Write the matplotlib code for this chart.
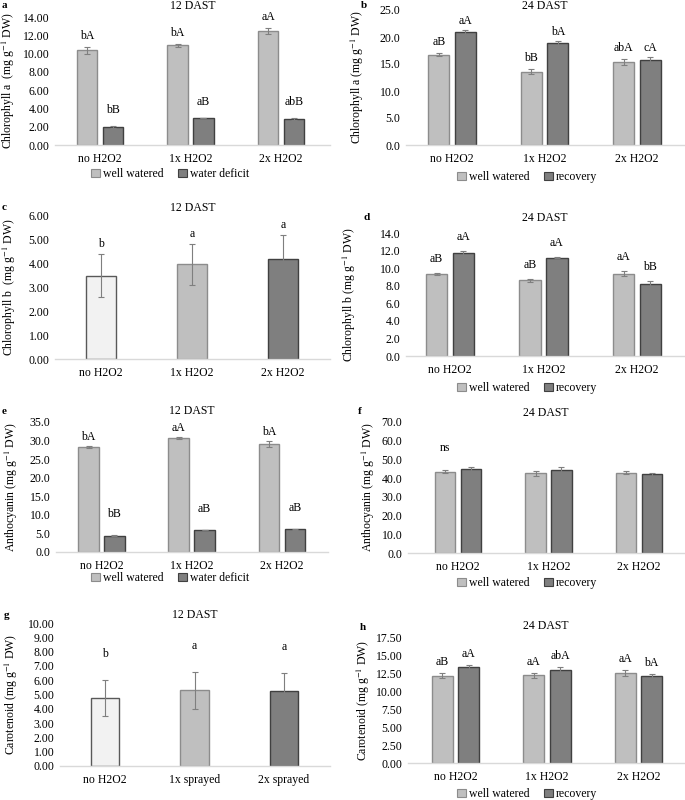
import matplotlib
matplotlib.use("Agg")
import matplotlib.pyplot as plt
from matplotlib.patches import Patch
import numpy as np

plt.rcParams['font.family'] = ['Liberation Serif', 'DejaVu Serif']
plt.rcParams['mathtext.fontset'] = 'stix'

# ---------------- data ----------------
groups = ["no H2O2", "1x H2O2", "2x H2O2"]
groups_sprayed = ["no H2O2", "1x sprayed", "2x sprayed"]

# a: Chlorophyll a 12 DAST
chla12_ww = [10.35, 10.90, 12.45]
chla12_ww_err = [0.35, 0.20, 0.35]
chla12_wd = [1.95, 2.95, 2.85]
chla12_wd_err = [0.10, 0.05, 0.08]
chla12_ww_lab = ["bA", "bA", "aA"]
chla12_wd_lab = ["bB", "aB", "abB"]

# b: Chlorophyll a 24 DAST
chla24_ww = [16.7, 13.6, 15.4]
chla24_ww_err = [0.25, 0.40, 0.50]
chla24_rec = [20.9, 18.8, 15.8]
chla24_rec_err = [0.35, 0.45, 0.55]
chla24_ww_lab = ["aB", "bB", "abA"]
chla24_rec_lab = ["aA", "bA", "cA"]

# c: Chlorophyll b 12 DAST
chlb12 = [3.47, 3.95, 4.17]
chlb12_err = [0.90, 0.85, 1.00]
chlb12_lab = ["b", "a", "a"]

# d: Chlorophyll b 24 DAST
chlb24_ww = [9.35, 8.60, 9.35]
chlb24_ww_err = [0.15, 0.20, 0.30]
chlb24_rec = [11.75, 11.20, 8.20]
chlb24_rec_err = [0.20, 0.05, 0.30]
chlb24_ww_lab = ["aB", "aB", "aA"]
chlb24_rec_lab = ["aA", "aA", "bB"]

# e: Anthocyanin 12 DAST
anth12_ww = [28.3, 30.7, 29.1]
anth12_ww_err = [0.30, 0.15, 0.70]
anth12_wd = [4.4, 5.9, 6.1]
anth12_wd_err = [0.10, 0.10, 0.10]
anth12_ww_lab = ["bA", "aA", "bA"]
anth12_wd_lab = ["bB", "aB", "aB"]

# f: Anthocyanin 24 DAST
anth24_ww = [43.3, 42.6, 42.9]
anth24_ww_err = [0.8, 1.3, 0.8]
anth24_rec = [44.8, 44.6, 42.0]
anth24_rec_err = [1.1, 1.3, 1.0]
anth24_ww_lab = ["ns", "", ""]
anth24_rec_lab = ["", "", ""]

# g: Carotenoid 12 DAST
car12 = [4.75, 5.30, 5.25]
car12_err = [1.25, 1.30, 1.25]
car12_lab = ["b", "a", "a"]

# h: Carotenoid 24 DAST
car24_ww = [12.25, 12.30, 12.60]
car24_ww_err = [0.30, 0.35, 0.40]
car24_rec = [13.45, 13.05, 12.15]
car24_rec_err = [0.30, 0.40, 0.25]
car24_ww_lab = ["aB", "aA", "aA"]
car24_rec_lab = ["aA", "abA", "bA"]

# ---------------- style ----------------
W, H = 685, 800
C_LIGHT = "#f2f2f2"
C_MID = "#bfbfbf"
C_DARK = "#7f7f7f"
E_LIGHT = "#595959"
E_MID = "#8c8c8c"
E_DARK = "#404040"
ERR_C = "#7f7f7f"
FS = 8.5

fig = plt.figure(figsize=(W / 100, H / 100), dpi=100)


def make_ax(left, right, top, bottom, c0, c2):
    ax = fig.add_axes([left / W, 1 - bottom / H, (right - left) / W, (bottom - top) / H])
    unit = (c2 - c0) / 2
    ax.set_xlim((left - c0) / unit, (right - c0) / unit)
    for s in ["left", "right", "top"]:
        ax.spines[s].set_visible(False)
    ax.spines["bottom"].set_color("#d9d9d9")
    ax.spines["bottom"].set_linewidth(1.0)
    ax.tick_params(length=0, labelsize=FS, pad=4)
    return ax


def finish(ax, ymax, step, fmt, ylabel, xlabels, letter, lx, ly, ylab_x):
    ax.set_ylim(0, ymax)
    ticks = np.arange(0, ymax + step / 2, step)
    ax.set_yticks(ticks)
    ax.set_yticklabels([fmt % t for t in ticks])
    ax.set_xticks(range(len(xlabels)))
    ax.set_xticklabels(xlabels, fontsize=FS)
    ax.tick_params(axis="x", pad=6)
    pos = ax.get_position()
    fig.text(ylab_x / W, (pos.y0 + pos.y1) / 2, ylabel, fontsize=FS, rotation=90,
             ha="center", va="center")
    fig.text(lx / W, 1 - ly / H, letter, fontsize=8, fontweight="bold", va="center", ha="left")


def add_title(ax, title, ty):
    pos = ax.get_position()
    fig.text((pos.x0 + pos.x1) / 2, 1 - ty / H, title, fontsize=FS, ha="center", va="center")


def paired(ax, v1, e1, v2, e2, l1, l2, off1, off2):
    x = np.arange(len(v1))
    bw, d = 0.23, 0.143
    ax.bar(x - d, v1, bw, color=C_MID, edgecolor=E_MID, linewidth=1.0, zorder=2)
    ax.bar(x + d, v2, bw, color=C_DARK, edgecolor=E_DARK, linewidth=1.0, zorder=2)
    ax.errorbar(x - d, v1, yerr=e1, fmt="none", ecolor=ERR_C, elinewidth=0.8, capsize=2, capthick=0.8, zorder=3)
    ax.errorbar(x + d, v2, yerr=e2, fmt="none", ecolor=ERR_C, elinewidth=0.8, capsize=2, capthick=0.8, zorder=3)
    for xi, v, e, t in zip(x - d, v1, e1, l1):
        if t:
            ax.annotate(t, (xi, v + e), xytext=(0, off1 * 0.72), textcoords="offset points",
                        ha="center", va="center", fontsize=FS)
    for xi, v, e, t in zip(x + d, v2, e2, l2):
        if t:
            ax.annotate(t, (xi, v + e), xytext=(0, off2 * 0.72), textcoords="offset points",
                        ha="center", va="center", fontsize=FS)


def single(ax, v, e, labs, off):
    x = np.arange(len(v))
    cols = [C_LIGHT, C_MID, C_DARK]
    ecols = [E_LIGHT, E_MID, E_DARK]
    ax.bar(x, v, 0.32, color=cols, edgecolor=ecols, linewidth=1.0, zorder=2)
    ax.errorbar(x, v, yerr=e, fmt="none", ecolor=ERR_C, elinewidth=0.8, capsize=2, capthick=0.8, zorder=3)
    for xi, vi, ei, t in zip(x, v, e, labs):
        ax.annotate(t, (xi, vi + ei), xytext=(0, off * 0.72), textcoords="offset points",
                    ha="center", va="center", fontsize=FS)


def legend(labels, cx, cy):
    handles = [Patch(facecolor=C_MID, edgecolor=E_MID, linewidth=0.8),
               Patch(facecolor=C_DARK, edgecolor=E_DARK, linewidth=0.8)]
    fig.legend(handles, labels, loc="center", bbox_to_anchor=(cx / W, 1 - cy / H), ncol=2,
               frameon=False, fontsize=FS, handlelength=0.75, handleheight=0.75,
               handletextpad=0.3, columnspacing=1.2, borderpad=0)


ul = "(mg g$^{-1}$ DW)"

# a
ax = make_ax(55, 330, 17, 145, 100, 281)
paired(ax, chla12_ww, chla12_ww_err, chla12_wd, chla12_wd_err, chla12_ww_lab, chla12_wd_lab, 11, 16)
finish(ax, 14, 2, "%.2f", "Chlorophyll a  " + ul, groups, "a", 2, 5, 8)
add_title(ax, "12 DAST", 6)
legend(["well watered", "water deficit"], 170, 174)

# b
ax = make_ax(406, 684, 10, 145, 452, 637)
paired(ax, chla24_ww, chla24_ww_err, chla24_rec, chla24_rec_err, chla24_ww_lab, chla24_rec_lab, 11, 9)
finish(ax, 25, 5, "%.1f", "Chlorophyll a " + ul, groups, "b", 361, 5, 357)
add_title(ax, "24 DAST", 6)
legend(["well watered", "recovery"], 527, 177)

# c
ax = make_ax(55, 330, 215, 359, 101, 283)
single(ax, chlb12, chlb12_err, chlb12_lab, 10)
finish(ax, 6, 1, "%.2f", "Chlorophyll b  " + ul, groups, "c", 2, 207, 9)
add_title(ax, "12 DAST", 208)

# d
ax = make_ax(406, 684, 233, 356, 450, 637)
paired(ax, chlb24_ww, chlb24_ww_err, chlb24_rec, chlb24_rec_err, chlb24_ww_lab, chlb24_rec_lab, 14, 14)
finish(ax, 14, 2, "%.1f", "Chlorophyll b " + ul, groups, "d", 364, 218, 349)
add_title(ax, "24 DAST", 218)
legend(["well watered", "recovery"], 527, 388)

# e
ax = make_ax(56, 328, 422, 552, 101.5, 282)
paired(ax, anth12_ww, anth12_ww_err, anth12_wd, anth12_wd_err, anth12_ww_lab, anth12_wd_lab, 9, 21)
finish(ax, 35, 5, "%.1f", "Anthocyanin " + ul, groups, "e", 2, 411, 11)
add_title(ax, "12 DAST", 411)
legend(["well watered", "water deficit"], 170, 578)

# f
ax = make_ax(408, 684, 422, 553, 458, 639)
paired(ax, anth24_ww, anth24_ww_err, anth24_rec, anth24_rec_err, anth24_ww_lab, anth24_rec_lab, 22, 10)
finish(ax, 70, 10, "%.1f", "Anthocyanin " + ul, groups, "f", 358, 412, 368)
add_title(ax, "24 DAST", 413)
legend(["well watered", "recovery"], 527, 583)

# g
ax = make_ax(60, 330, 623, 766, 105, 284)
single(ax, car12, car12_err, car12_lab, 26)
finish(ax, 10, 1, "%.2f", "Carotenoid " + ul, groups_sprayed, "g", 4, 615, 11)
add_title(ax, "12 DAST", 615)

# h
ax = make_ax(408, 684, 638, 763, 455.5, 638.5)
paired(ax, car24_ww, car24_ww_err, car24_rec, car24_rec_err, car24_ww_lab, car24_rec_lab, 11, 11)
finish(ax, 17.5, 2.5, "%.2f", "Carotenoid " + ul, groups, "h", 360, 628, 363)
add_title(ax, "24 DAST", 626)
legend(["well watered", "recovery"], 527, 794)

fig.savefig("out.png", dpi=100, facecolor="white")
